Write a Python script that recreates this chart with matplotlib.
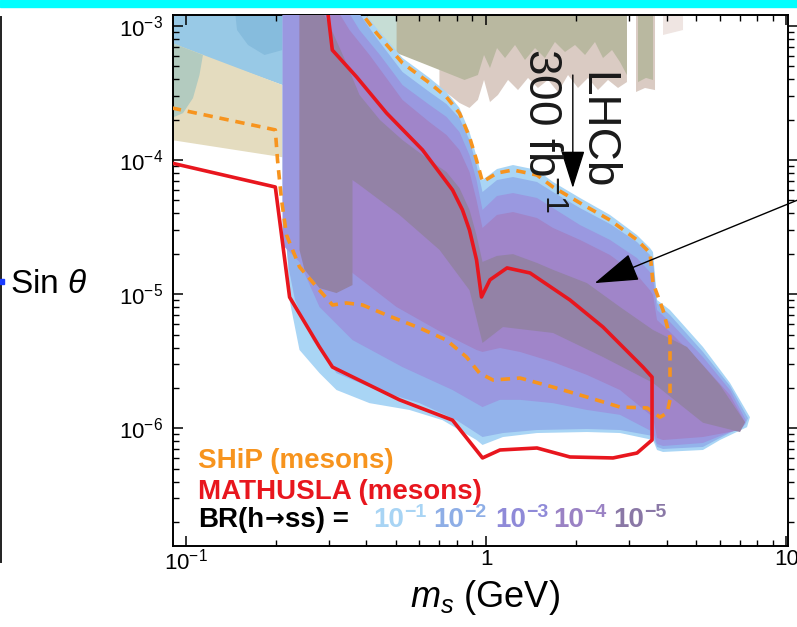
import matplotlib
matplotlib.use('Agg')
import matplotlib.pyplot as plt
from matplotlib.lines import Line2D
from matplotlib.patches import Rectangle
from matplotlib.transforms import offset_copy

plt.rcParams['font.family'] = ['Liberation Sans', 'DejaVu Sans']
plt.rcParams['mathtext.fontset'] = 'custom'
plt.rcParams['mathtext.rm'] = 'Liberation Sans'
plt.rcParams['mathtext.it'] = 'Liberation Sans:italic'
plt.rcParams['mathtext.bf'] = 'Liberation Sans:bold'
plt.rcParams['mathtext.sf'] = 'Liberation Sans'

# ---------------- data (m_s in GeV, sin theta) ----------------
TOP = 1.4e-3

# MATHUSLA (mesons) contour
mathusla_m = [0.09, 0.199, 0.222, 0.279, 0.3084, 0.5154, 0.7736, 0.9736, 1.113, 1.478, 1.903, 2.647, 3.181,
              3.569, 3.569, 3.330, 2.451, 1.903, 1.401, 1.175, 1.031, 0.966, 0.930, 0.881, 0.835, 0.774,
              0.615, 0.467, 0.371, 0.308, 0.296]
mathusla_s = [9.5e-5, 6.3e-5, 9.5e-6, 4.04e-6, 2.86e-6, 1.63e-6, 1.15e-6, 6.01e-7, 6.89e-7, 7.13e-7, 6.11e-7,
              6.01e-7, 6.54e-7, 8.18e-7, 2.41e-6, 2.86e-6, 5.69e-6, 9.05e-6, 1.44e-5, 1.57e-5, 1.28e-5,
              9.53e-6, 1.80e-5, 3.01e-5, 4.25e-5, 5.98e-5, 1.19e-4, 2.24e-4, 4.17e-4, 6.62e-4, 1.4e-3]

# SHiP (mesons) contour
ship_m = [0.09, 0.199, 0.2024, 0.2087, 0.2169, 0.2395, 0.2792, 0.3084, 0.3434, 0.3882, 0.4666, 0.6008,
          0.7388, 0.8612, 0.9514, 1.055, 1.298, 1.671, 2.168, 2.792, 3.435, 3.793, 4.003, 4.096, 4.096,
          3.882, 3.596, 3.515, 3.181, 2.586, 2.055, 1.671, 1.478, 1.230, 1.088, 0.9736, 0.930, 0.881,
          0.816, 0.739, 0.649, 0.527, 0.432, 0.38]
ship_s = [2.45e-4, 1.68e-4, 1.0e-4, 5.04e-5, 2.76e-5, 1.60e-5, 1.07e-5, 8.31e-6, 8.60e-6, 8.31e-6, 7.00e-6,
          5.60e-6, 4.55e-6, 3.40e-6, 2.58e-6, 2.29e-6, 2.37e-6, 2.03e-6, 1.71e-6, 1.44e-6, 1.42e-6,
          1.21e-6, 1.30e-6, 1.63e-6, 4.79e-6, 7.62e-6, 1.21e-5, 2.03e-5, 2.54e-5, 3.57e-5, 4.79e-5,
          6.30e-5, 7.74e-5, 8.44e-5, 8.01e-5, 6.87e-5, 1.0e-4, 1.49e-4, 2.24e-4, 2.95e-4, 3.76e-4,
          5.30e-4, 8.87e-4, 1.3e-3]

# BR(h->ss) sensitivity regions: upper and lower boundaries
br1_m_up = [0.2103, 0.3794, 0.4321, 0.5274, 0.6486, 0.7388, 0.8161, 0.8814, 0.9298, 0.9736, 1.088, 1.230,
            1.478, 1.671, 2.055, 2.586, 3.181, 3.515, 3.596, 3.708, 4.096, 5.273, 6.486, 7.558]
br1_s_up = [TOP, TOP, 9.66e-4, 5.77e-4, 4.10e-4, 3.22e-4, 2.45e-4, 1.62e-4, 1.07e-4, 7.10e-5, 8.58e-5,
            9.19e-5, 8.44e-5, 6.87e-5, 5.22e-5, 3.90e-5, 2.76e-5, 2.21e-5, 2.06e-5, 9.05e-6, 7.62e-6,
            4.04e-6, 2.18e-6, 1.21e-6]
br1_m_lo = [7.389, 6.008, 5.273, 3.882, 3.708, 3.596, 2.792, 2.168, 1.478, 1.139, 0.9736, 0.9298, 0.7166,
            0.5564, 0.4097, 0.3180, 0.2792, 0.2395, 0.2219, 0.2169, 0.2103]
br1_s_lo = [1.02e-6, 8.18e-7, 6.89e-7, 6.66e-7, 6.89e-7, 8.18e-7, 9.22e-7, 9.38e-7, 9.22e-7, 8.61e-7,
            7.51e-7, 8.18e-7, 1.15e-6, 1.37e-6, 1.54e-6, 1.93e-6, 2.58e-6, 3.84e-6, 9.05e-6, 2.54e-5, 5.04e-5]

br2_m_up = [0.2103, 0.3651, 0.4321, 0.5274, 0.6486, 0.7388, 0.8161, 0.8814, 0.9298, 0.9736, 1.088, 1.230,
            1.478, 1.671, 2.055, 2.586, 3.181, 3.515, 3.596, 3.708, 4.096, 5.273, 6.486, 7.446]
br2_s_up = [TOP, TOP, 8.14e-4, 4.54e-4, 3.22e-4, 2.62e-4, 2.06e-4, 1.41e-4, 9.19e-5, 5.78e-5, 7.10e-5,
            7.48e-5, 6.87e-5, 5.78e-5, 4.39e-5, 3.34e-5, 2.45e-5, 1.96e-5, 1.80e-5, 8.60e-6, 7.00e-6,
            3.71e-6, 2.07e-6, 1.19e-6]
br2_m_lo = [7.277, 6.008, 5.273, 3.882, 3.708, 3.596, 2.792, 2.168, 1.478, 1.139, 0.9736, 0.7977, 0.6008,
            0.4321, 0.3180, 0.2647, 0.2314, 0.2210, 0.2136]
br2_s_lo = [1.06e-6, 8.47e-7, 7.26e-7, 7.01e-7, 7.26e-7, 8.76e-7, 9.71e-7, 9.88e-7, 9.71e-7, 9.22e-7,
            8.61e-7, 1.15e-6, 1.54e-6, 1.93e-6, 2.58e-6, 4.55e-6, 9.05e-6, 1.52e-5, 3.01e-5]

br3_m_up = [0.2103, 0.3395, 0.3794, 0.4438, 0.5274, 0.6486, 0.7388, 0.8161, 0.8814, 0.9298, 0.9736, 1.088,
            1.230, 1.478, 1.671, 2.055, 2.586, 3.181, 3.515, 3.596, 3.708, 4.096, 5.273, 6.486, 7.332]
br3_s_up = [TOP, TOP, 9.33e-4, 6.08e-4, 3.63e-4, 2.58e-4, 2.10e-4, 1.62e-4, 1.09e-4, 7.10e-5, 4.25e-5,
            5.40e-5, 5.68e-5, 5.22e-5, 4.39e-5, 3.28e-5, 2.54e-5, 1.86e-5, 1.46e-5, 1.32e-5, 7.62e-6,
            6.20e-6, 3.40e-6, 1.93e-6, 1.15e-6]
br3_m_lo = [7.166, 6.008, 5.273, 3.882, 3.708, 3.596, 2.792, 2.168, 1.671, 1.298, 1.113, 0.9736, 0.7736,
            0.5274, 0.3595, 0.2792, 0.2395, 0.2103]
br3_s_lo = [1.02e-6, 8.76e-7, 7.77e-7, 7.38e-7, 7.64e-7, 9.38e-7, 1.26e-6, 1.37e-6, 1.54e-6, 1.63e-6,
            1.63e-6, 1.44e-6, 1.93e-6, 2.86e-6, 4.55e-6, 8.03e-6, 1.74e-5, 2.33e-5]

br4_m_up = [0.2395, 0.3144, 0.3514, 0.4097, 0.5274, 0.6486, 0.7388, 0.8161, 0.8814, 0.9298, 0.9736, 1.088,
            1.230, 1.478, 1.671, 2.055, 2.586, 3.181, 3.515, 3.596, 3.708, 4.096, 5.273, 6.486, 7.277]
br4_s_up = [TOP, TOP, 9.33e-4, 6.08e-4, 2.81e-4, 1.92e-4, 1.54e-4, 1.19e-4, 8.15e-5, 5.04e-5, 3.12e-5,
            3.90e-5, 4.10e-5, 3.70e-5, 3.12e-5, 2.54e-5, 1.96e-5, 1.39e-5, 1.07e-5, 9.86e-6, 6.42e-6,
            5.23e-6, 2.96e-6, 1.77e-6, 1.11e-6]
br4_m_lo = [7.005, 5.273, 3.882, 3.708, 3.596, 2.792, 2.168, 1.671, 1.298, 1.113, 0.9736, 0.9298, 0.7166,
            0.5037, 0.3595, 0.2792, 0.2395]
br4_s_lo = [9.71e-7, 8.61e-7, 8.18e-7, 8.47e-7, 1.21e-6, 1.93e-6, 2.50e-6, 3.12e-6, 3.71e-6, 3.97e-6,
            3.71e-6, 3.84e-6, 5.14e-6, 8.03e-6, 1.44e-5, 2.54e-5, 3.57e-5]

br5_m_up = [0.2395, 0.2792, 0.3014, 0.3395, 0.3794, 0.4438, 0.5274, 0.6486, 0.7388, 0.8161, 0.8814, 0.9298,
            0.9736, 1.088, 1.230, 1.478, 1.671, 2.168, 2.792, 3.596, 4.666, 6.008, 7.277]
br5_s_up = [TOP, TOP, 1.017e-3, 5.58e-4, 3.06e-4, 1.99e-4, 1.41e-4, 1.00e-4, 8.15e-5, 6.19e-5, 4.25e-5,
            2.76e-5, 1.74e-5, 1.93e-5, 1.99e-5, 1.71e-5, 1.52e-5, 1.21e-5, 8.03e-6, 5.41e-6, 4.04e-6,
            2.10e-6, 1.11e-6]
br5_m_lo = [7.005, 5.273, 3.596, 2.451, 1.671, 1.139, 0.9736, 0.8814, 0.7003, 0.5154, 0.3794, 0.3595,
            0.3595, 0.3180, 0.2792, 0.2489, 0.2395]
br5_s_lo = [9.38e-7, 1.10e-6, 2.18e-6, 3.40e-6, 5.14e-6, 5.69e-6, 4.33e-6, 1.07e-5, 2.14e-5, 3.90e-5,
            6.52e-5, 7.10e-5, 1.17e-5, 1.02e-5, 1.11e-5, 1.52e-5, 2.14e-5]

# existing exclusion regions (background)
blue_m = [0.09, 0.5076, 0.5076, 0.2103, 0.09]
blue_s = [TOP, TOP, 6.08e-4, 3.63e-4, 7.22e-4]
paleteal_m = [0.3514, 0.5076, 0.5076, 0.3514]
paleteal_s = [TOP, TOP, 6.08e-4, 4.70e-4]
darkblue_m = [0.1456, 0.2103, 0.2103, 0.1832, 0.1614, 0.1484]
darkblue_s = [TOP, TOP, 6.62e-4, 6.08e-4, 7.22e-4, 9.33e-4]
tan_m = [0.09, 0.2103, 0.2103, 0.09]
tan_s = [7.47e-4, 3.63e-4, 1.05e-4, 1.41e-4]
teal_m = [0.09, 0.1143, 0.1113, 0.1059, 0.0981, 0.09]
teal_s = [7.47e-4, 6.08e-4, 4.31e-4, 2.90e-4, 2.24e-4, 2.06e-4]

pink_m = [0.700, 2.945, 2.945, 2.750, 2.547, 2.359, 2.185, 2.024, 1.875, 1.736, 1.608, 1.489, 1.380,
          1.278, 1.184, 1.096, 1.031, 0.985, 0.940, 0.881, 0.816, 0.756, 0.700]
pink_s = [TOP, TOP, 3.82e-4, 3.45e-4, 3.96e-4, 3.33e-4, 4.10e-4, 3.45e-4, 4.31e-4, 3.22e-4, 3.96e-4,
          3.45e-4, 4.10e-4, 3.33e-4, 3.96e-4, 3.06e-4, 2.71e-4, 3.96e-4, 2.81e-4, 2.45e-4, 2.67e-4,
          3.06e-4, 3.45e-4]
gray_m = [0.504, 2.945, 2.945, 2.792, 2.627, 2.451, 2.305, 2.136, 1.978, 1.832, 1.696, 1.571, 1.456,
          1.348, 1.249, 1.157, 1.088, 1.031, 0.985, 0.940, 0.848, 0.756, 0.649, 0.556, 0.504]
gray_s = [TOP, TOP, 4.31e-4, 5.39e-4, 6.62e-4, 5.77e-4, 7.60e-4, 6.08e-4, 7.22e-4, 6.40e-4, 7.60e-4,
          5.77e-4, 6.85e-4, 5.58e-4, 7.22e-4, 5.77e-4, 6.85e-4, 4.86e-4, 6.08e-4, 4.31e-4, 3.96e-4,
          4.39e-4, 5.03e-4, 5.77e-4, 6.29e-4]
pink2_m = [3.157, 3.651, 3.651, 3.382, 3.157]
pink2_s = [TOP, TOP, 3.33e-4, 3.45e-4, 3.22e-4]
gray2_m = [3.205, 3.596, 3.596, 3.408, 3.205]
gray2_s = [TOP, TOP, 3.96e-4, 4.10e-4, 3.82e-4]
faint_m = [3.882, 4.525, 4.525, 3.882]
faint_s = [TOP, TOP, 9.33e-4, 8.57e-4]

br_exponents = ['\u22121', '\u22122', '\u22123', '\u22124', '\u22125']
br_fill_colors = ['#a9d5f5', '#93b3eb', '#9a98e0', '#a085c9', '#9382a6']
br_text_colors = ['#a8d4f4', '#8eaee6', '#8f8ad8', '#9a82c4', '#8a78a6']

x_ticks = [0.1, 1, 10]
x_ticklabels = ['$10^{-1}$', '1', '10']
y_ticks = [1e-6, 1e-5, 1e-4, 1e-3]
y_ticklabels = ['$10^{-6}$', '$10^{-5}$', '$10^{-4}$', '$10^{-3}$']

# arrows / annotations (data coordinates)
arrow_tip = (2.30, 1.21e-5)
arrow_tail = (10.9, 5.04e-5)
lhcb_tip = (1.945, 6.19e-5)
lhcb_tail = (1.945, 4.31e-4)

# ---------------- figure ----------------
W, H = 797, 627
fig = plt.figure(figsize=(W / 100, H / 100), dpi=100)
ax = fig.add_axes([173 / W, 1 - 546 / H, 615 / W, 531 / H])
ax.set_xscale('log')
ax.set_yscale('log')
ax.set_xlim(0.09086, 10.116)
ax.set_ylim(1.325e-7, 1.208e-3)

# background exclusions
ax.fill(blue_m, blue_s, color='#98c9e6', lw=0, zorder=1)
ax.fill(paleteal_m, paleteal_s, color='#c6ddd5', lw=0, zorder=1.1)
ax.fill(darkblue_m, darkblue_s, color='#86bcdd', lw=0, zorder=1.1)
ax.fill(tan_m, tan_s, color='#e4dcbf', lw=0, zorder=1.2)
ax.fill(teal_m, teal_s, color='#b3cbbf', lw=0, zorder=1.3)
ax.fill(pink_m, pink_s, color='#dacbc3', lw=0, zorder=1.4)
ax.fill(gray_m, gray_s, color='#b9b8a0', lw=0, zorder=1.5)
ax.fill(pink2_m, pink2_s, color='#dacbc3', lw=0, zorder=1.4)
ax.fill(gray2_m, gray2_s, color='#b9b8a0', lw=0, zorder=1.5)
ax.fill(faint_m, faint_s, color='#efe5e2', lw=0, zorder=1.4)

# BR regions
bands = [(br1_m_up, br1_s_up, br1_m_lo, br1_s_lo),
         (br2_m_up, br2_s_up, br2_m_lo, br2_s_lo),
         (br3_m_up, br3_s_up, br3_m_lo, br3_s_lo),
         (br4_m_up, br4_s_up, br4_m_lo, br4_s_lo),
         (br5_m_up, br5_s_up, br5_m_lo, br5_s_lo)]
for i, (mu, su, ml, sl) in enumerate(bands):
    ax.fill(list(mu) + list(ml), list(su) + list(sl), color=br_fill_colors[i], lw=0, zorder=2 + i)

# lines
ax.plot(ship_m, ship_s, color='#f7941e', lw=2.6, linestyle=(0, (2.6, 1.9)), zorder=8)
ax.plot(mathusla_m, mathusla_s, color='#e8161e', lw=2.6, zorder=9, solid_joinstyle='round')

# axes styling
for sp in ax.spines.values():
    sp.set_linewidth(1.4)
ax.set_xticks(x_ticks)
ax.set_xticklabels(x_ticklabels)
ax.set_yticks(y_ticks)
ax.set_yticklabels(y_ticklabels)
ax.tick_params(axis='x', which='both', direction='in', top=True, bottom=True, labelsize=16, pad=2)
ax.tick_params(axis='y', which='both', direction='in', left=True, right=False, labelsize=16, pad=7)
ax.tick_params(which='major', length=7, width=1.1)
ax.tick_params(which='minor', length=4.5, width=1.0)

ax2 = ax.twinx()
ax2.set_yscale('log')
ax2.set_ylim(ax.get_ylim())
ax2.set_yticks(y_ticks)
ax2.tick_params(axis='y', which='both', direction='out', labelright=False)
ax2.tick_params(which='major', length=7, width=1.1)
ax2.tick_params(which='minor', length=4.5, width=1.0)
for sp in ax2.spines.values():
    sp.set_visible(False)

ax.set_xlabel('$m_s$ (GeV)', fontsize=26)
ax.xaxis.set_label_coords((485 - 173) / 615, (546 - 607) / 531)
ax.xaxis.label.set_va('baseline')
ax.set_ylabel('Sin $\\theta$', fontsize=24, rotation=0)
ax.yaxis.set_label_coords((10 - 173) / 615, (546 - 293) / 531)
ax.yaxis.label.set_va('baseline')
ax.yaxis.label.set_ha('left')

# legend-like texts
FS = 20
tx = (198 - 173) / 615
ax.text(tx, (546 - 468) / 531, 'SHiP (mesons)', transform=ax.transAxes, color='#f7941e',
        fontsize=FS, fontweight='bold', va='baseline', ha='left', zorder=12)
ax.text(tx, (546 - 499) / 531, 'MATHUSLA (mesons)', transform=ax.transAxes, color='#e8161e',
        fontsize=FS, fontweight='bold', va='baseline', ha='left', zorder=12)

renderer = fig.canvas.get_renderer()
by = (546 - 527) / 531
t1 = ax.text(tx, by, 'BR(h', transform=ax.transAxes, color='black',
             fontsize=FS, fontweight='bold', va='baseline', ha='left', zorder=12)
w1 = t1.get_window_extent(renderer).width * 72 / fig.dpi
t2 = ax.text(tx, by, '\u2192', transform=offset_copy(ax.transAxes, fig=fig, x=w1 + 0.5, y=1, units='points'),
             color='black', fontsize=FS - 3, fontweight='bold', family='DejaVu Sans',
             va='baseline', ha='left', zorder=12)
w2 = t2.get_window_extent(renderer).width * 72 / fig.dpi
ax.text(tx, by, 'ss) =', transform=offset_copy(ax.transAxes, fig=fig, x=w1 + w2 + 1, y=0, units='points'),
        color='black', fontsize=FS, fontweight='bold', va='baseline', ha='left', zorder=12)

br_x_px = [373, 433, 495, 553, 613]
for expo, col, xp in zip(br_exponents, br_text_colors, br_x_px):
    tb = ax.text((xp - 173) / 615, by, '10', transform=ax.transAxes, color=col,
                 fontsize=FS, fontweight='bold', va='baseline', ha='left', zorder=12)
    wb = tb.get_window_extent(renderer).width * 72 / fig.dpi
    ax.text((xp - 173) / 615, by, expo,
            transform=offset_copy(ax.transAxes, fig=fig, x=wb + 0.5, y=7, units='points'),
            color=col, fontsize=14, fontweight='bold', va='baseline', ha='left', zorder=12)

# LHCb annotation
ax.annotate('', xy=lhcb_tip, xytext=lhcb_tail,
            arrowprops=dict(arrowstyle='-|>,head_length=1.2,head_width=0.38', color='black', lw=1.0,
                            mutation_scale=20, shrinkA=0, shrinkB=0), zorder=13)
ax.text(2.323, 1.67e-4, 'LHCb', rotation=-90, fontsize=33, ha='center', va='center', color='#1a1a1a',
        zorder=13)
ax.text(1.512, 1.65e-4, '300 fb$^{-1}$', rotation=-90, fontsize=33, ha='center', va='center',
        color='#1a1a1a', zorder=13)

# arrow from the right
ax.annotate('', xy=arrow_tip, xytext=arrow_tail, annotation_clip=False,
            arrowprops=dict(arrowstyle='-|>,head_length=1.4,head_width=0.45', color='black', lw=1.0,
                            mutation_scale=20, shrinkA=0, shrinkB=0), zorder=13)

# decorations from the surrounding figure
fig.patches.append(Rectangle((0, 1 - 7 / H), 1, 7 / H, transform=fig.transFigure,
                             color='#00ffff', zorder=0))
fig.lines.append(Line2D([1.2 / W, 1.2 / W], [1 - 17 / H, 1 - 562 / H], transform=fig.transFigure,
                        color='#202020', lw=1.4))
fig.patches.append(Rectangle((0, 1 - 284 / H), 4 / W, 5 / H, transform=fig.transFigure,
                             color='#1a3cff', zorder=3))

fig.savefig('out.png', dpi=100)
